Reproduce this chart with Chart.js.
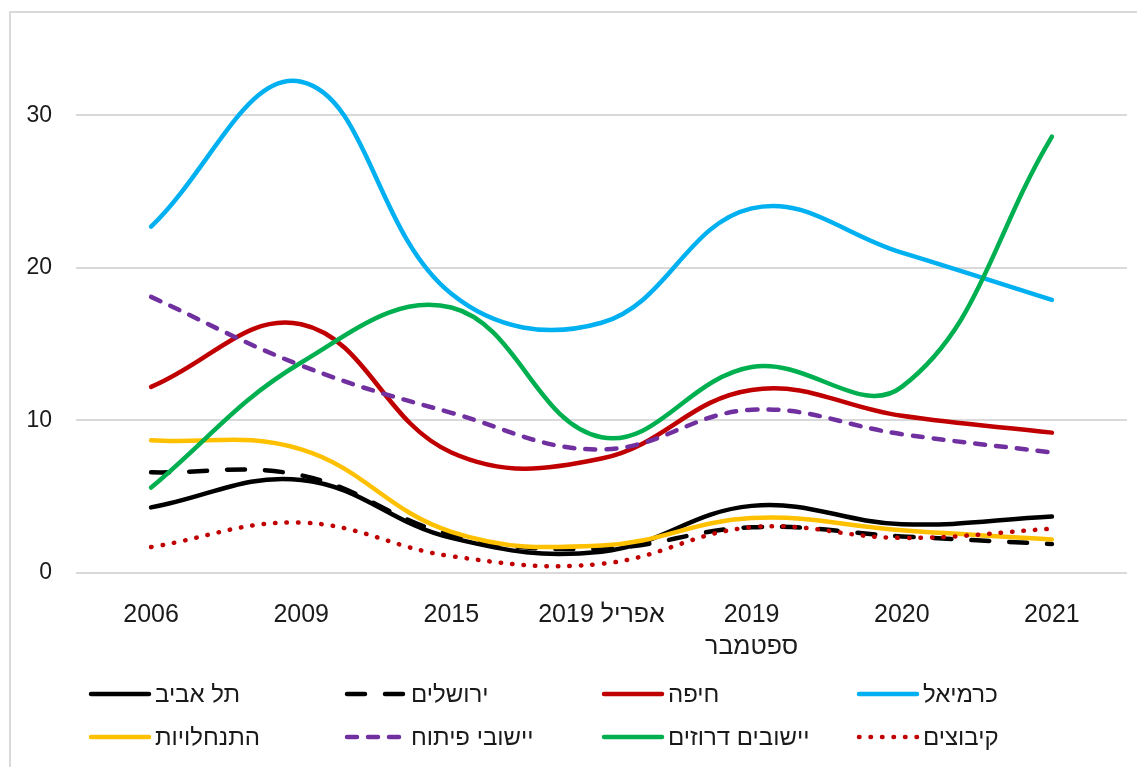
<!DOCTYPE html>
<html>
<head>
<meta charset="utf-8">
<script src="https://cdn.jsdelivr.net/npm/chart.js@4.4.1/dist/chart.umd.min.js"></script>
<style>
  html, body { margin: 0; padding: 0; background: #ffffff; }
  #wrap { width: 1137px; height: 767px; position: relative; }
</style>
</head>
<body>
<div id="wrap"><canvas id="chart" width="1137" height="767"></canvas></div>
<script>
// Survey rounds on the x axis
const categories = ['2006', '2009', '2015', '2019 אפריל', ['2019', 'ספטמבר'], '2020', '2021'];

// Values per locality type
const telAviv       = [4.3, 6.1, 2.3, 1.4, 4.4, 3.2, 3.7];
const jerusalem     = [6.6, 6.4, 2.5, 1.6, 3.0, 2.4, 1.9];
const haifa         = [12.2, 16.3, 7.9, 7.5, 12.0, 10.3, 9.2];
const karmiel       = [22.7, 32.2, 18.3, 16.4, 23.9, 21.0, 17.9];
const settlements   = [8.7, 8.1, 2.7, 1.8, 3.6, 2.8, 2.2];
const devTowns      = [18.1, 13.6, 10.5, 8.1, 10.7, 9.1, 7.9];
const druzeVillages = [5.6, 13.8, 17.4, 8.9, 13.5, 12.2, 28.6];
const kibbutzim     = [1.7, 3.3, 1.1, 0.6, 3.0, 2.3, 2.9];

const seriesNames = ['תל אביב', 'ירושלים', 'חיפה', 'כרמיאל', 'התנחלויות', 'יישובי פיתוח', 'יישובים דרוזים', 'קיבוצים'];
const yTickValues = [0, 10, 20, 30];

const FONT = '"Liberation Sans", Arial, sans-serif';
const LINE_W = 4.5;

const styles = [
  { color: '#000000', dash: [] },
  { color: '#000000', dash: [18, 20] },
  { color: '#C00000', dash: [] },
  { color: '#00B0F0', dash: [] },
  { color: '#FFC000', dash: [] },
  { color: '#7030A0', dash: [10, 11] },
  { color: '#00B050', dash: [] },
  { color: '#C00000', dash: [0.5, 11] }
];

const seriesData = [telAviv, jerusalem, haifa, karmiel, settlements, devTowns, druzeVillages, kibbutzim];

const datasets = seriesData.map((vals, i) => ({
  label: seriesNames[i],
  data: vals,
  borderColor: styles[i].color,
  backgroundColor: styles[i].color,
  borderWidth: LINE_W,
  borderDash: styles[i].dash,
  borderCapStyle: 'round',
  borderJoinStyle: 'round',
  pointRadius: 0,
  pointHoverRadius: 0,
  tension: 0.4,
  fill: false,
  order: seriesData.length - i
}));

// Outer frame of the chart box
const framePlugin = {
  id: 'frame',
  beforeDraw(chart) {
    const ctx = chart.ctx;
    ctx.save();
    ctx.fillStyle = '#ffffff';
    ctx.fillRect(0, 0, chart.width, chart.height);
    ctx.strokeStyle = '#d9d9d9';
    ctx.lineWidth = 2;
    ctx.beginPath();
    ctx.moveTo(10, chart.height);
    ctx.lineTo(10, 12);
    ctx.lineTo(chart.width, 12);
    ctx.stroke();
    ctx.restore();
  }
};

// Legend laid out in a 4 x 2 grid
const gridLegendPlugin = {
  id: 'gridLegend',
  afterDraw(chart) {
    const ctx = chart.ctx;
    const colX = [89, 345, 602, 857];
    const rowY = [694, 737];
    const swatchW = 62;
    ctx.save();
    chart.data.datasets.forEach((ds, i) => {
      const x = colX[i % 4];
      const y = rowY[Math.floor(i / 4)];
      ctx.strokeStyle = ds.borderColor;
      ctx.lineWidth = LINE_W;
      ctx.lineCap = 'round';
      ctx.setLineDash(ds.borderDash || []);
      ctx.beginPath();
      ctx.moveTo(x + 2, y);
      ctx.lineTo(x + swatchW - 2, y);
      ctx.stroke();
      ctx.setLineDash([]);
      ctx.fillStyle = '#1a1a1a';
      ctx.font = '24px ' + FONT;
      ctx.textAlign = 'left';
      ctx.textBaseline = 'middle';
      ctx.fillText(ds.label, x + swatchW + 4, y + 1);
    });
    ctx.restore();
  }
};

new Chart(document.getElementById('chart'), {
  type: 'line',
  data: { labels: categories, datasets },
  plugins: [framePlugin, gridLegendPlugin],
  options: {
    responsive: false,
    devicePixelRatio: 1,
    animation: false,
    layout: { padding: { left: 0, right: 10, top: 39, bottom: 0 } },
    plugins: {
      legend: { display: false },
      tooltip: { enabled: false }
    },
    scales: {
      x: {
        type: 'category',
        offset: true,
        grid: { display: false },
        border: { display: false },
        ticks: {
          color: '#1a1a1a',
          font: { family: FONT, size: 25, lineHeight: 1.28 },
          padding: 18,
          maxRotation: 0,
          autoSkip: false
        },
        afterFit(scale) { scale.height = 194; }
      },
      y: {
        min: 0,
        max: 35,
        afterBuildTicks(scale) {
          scale.ticks = yTickValues.map(v => ({ value: v }));
        },
        grid: { color: '#d9d9d9', lineWidth: 2, drawTicks: false },
        border: { display: false },
        ticks: {
          color: '#1a1a1a',
          font: { family: FONT, size: 23 },
          padding: 24
        },
        afterFit(scale) { scale.width = 76; }
      }
    }
  }
});
</script>
</body>
</html>
